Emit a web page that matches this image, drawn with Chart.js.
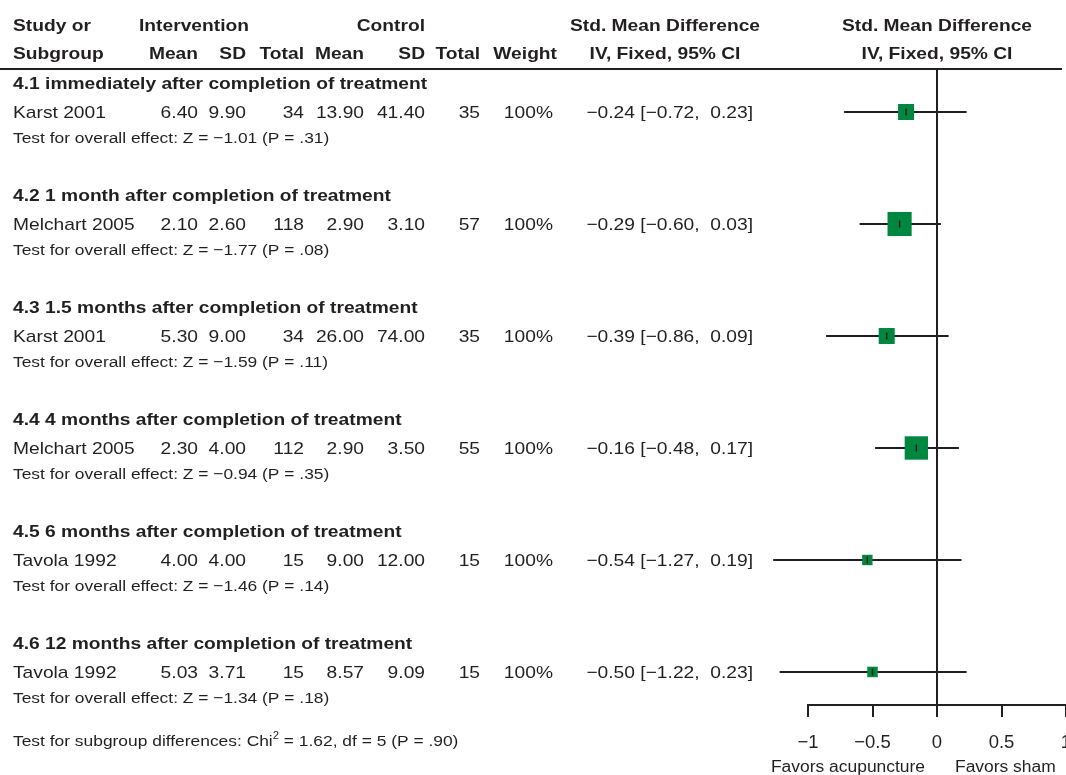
<!DOCTYPE html>
<html>
<head>
<meta charset="utf-8">
<title>Std. Mean Difference, IV, Fixed, 95% CI</title>
<script src="https://cdn.jsdelivr.net/npm/chart.js@4.4.1/dist/chart.umd.min.js"></script>
<style>
  html, body { margin: 0; padding: 0; background: #fff; overflow: hidden; }
  #wrap { position: relative; width: 1066px; height: 775px; }
</style>
</head>
<body>
<div id="wrap"><canvas id="forest"></canvas></div>
<script>
// one study per subgroup
const subgroups = [
    '4.1 immediately after completion of treatment',
    '4.2 1 month after completion of treatment',
    '4.3 1.5 months after completion of treatment',
    '4.4 4 months after completion of treatment',
    '4.5 6 months after completion of treatment',
    '4.6 12 months after completion of treatment'
];
const studies   = ['Karst 2001', 'Melchart 2005', 'Karst 2001', 'Melchart 2005', 'Tavola 1992', 'Tavola 1992'];
const intMean   = [6.40, 2.10, 5.30, 2.30, 4.00, 5.03];
const intSD     = [9.90, 2.60, 9.00, 4.00, 4.00, 3.71];
const intTotal  = [34, 118, 34, 112, 15, 15];
const ctlMean   = [13.90, 2.90, 26.00, 2.90, 9.00, 8.57];
const ctlSD     = [41.40, 3.10, 74.00, 3.50, 12.00, 9.09];
const ctlTotal  = [35, 57, 35, 55, 15, 15];
const weights   = [100, 100, 100, 100, 100, 100];
const smd       = [-0.24, -0.29, -0.39, -0.16, -0.54, -0.50];
const ciLow     = [-0.72, -0.60, -0.86, -0.48, -1.27, -1.22];
const ciHigh    = [0.23, 0.03, 0.09, 0.17, 0.19, 0.23];
const zStat     = [-1.01, -1.77, -1.59, -0.94, -1.46, -1.34];
const pValue    = ['.31', '.08', '.11', '.35', '.14', '.18'];
const xTicks    = [-1, -0.5, 0, 0.5, 1];
const heterogeneity = { chi2: 1.62, df: 5, p: '.90' };

const FAMILY = '"Liberation Sans", Arial, Helvetica, sans-serif';
const INK = '#231f20';
const GREEN = '#00873f';
const SX = 1.13;          // table text is set a little wide

// column anchors (right edges unless noted)
const COL = { name: 13, intMean: 198, intSD: 246, intTotal: 304, ctlMean: 364,
              ctlSD: 425, ctlTotal: 480, weight: 553, ci: 753, ciMid: 665 };

function signed(v, d) {
    const s = d === undefined ? String(Math.abs(v)) : Math.abs(v).toFixed(d);
    return (v < 0 ? '\u2212' : '') + s;
}
function ciText(i) {
    const pad = v => (v >= 0 ? ' ' : '') + signed(v, 2);
    return signed(smd[i], 2) + ' [' + signed(ciLow[i], 2) + ', ' + pad(ciHigh[i]) + ']';
}
// square side shrinks with CI width
function boxSide(i) { return 15.2 / (ciHigh[i] - ciLow[i]); }

function put(ctx, s, x, y, align, font, sx) {
    ctx.save();
    ctx.font = font;
    ctx.fillStyle = INK;
    ctx.textAlign = align;
    ctx.textBaseline = 'alphabetic';
    ctx.translate(x, y);
    ctx.scale(sx === undefined ? SX : sx, 1);
    ctx.fillText(s, 0, 0);
    ctx.restore();
}

const REG = '17px ' + FAMILY;
const BOLD = 'bold 17px ' + FAMILY;
const SMALL = '15.4px ' + FAMILY;

const forestTable = {
    id: 'forestTable',
    beforeDatasetsDraw(chart) {
        const { ctx, chartArea: a, scales: { x } } = chart;
        const x0 = Math.round(x.getPixelForValue(0));
        ctx.save();
        ctx.strokeStyle = INK;
        ctx.lineWidth = 2;
        ctx.beginPath();
        ctx.moveTo(x0, a.top);
        ctx.lineTo(x0, a.bottom);
        ctx.moveTo(0, a.top + 1);
        ctx.lineTo(1062, a.top + 1);
        ctx.stroke();
        ctx.restore();
    },
    afterDraw(chart) {
        const { ctx, scales: { x, y } } = chart;
        const zeroX = x.getPixelForValue(0);

        // column headings
        put(ctx, 'Study or', COL.name, 31, 'left', BOLD);
        put(ctx, 'Intervention', 139, 31, 'left', BOLD);
        put(ctx, 'Control', COL.ctlSD, 31, 'right', BOLD);
        put(ctx, 'Std. Mean Difference', COL.ciMid, 31, 'center', BOLD);
        put(ctx, 'Std. Mean Difference', zeroX, 31, 'center', BOLD);
        put(ctx, 'Subgroup', COL.name, 59, 'left', BOLD);
        put(ctx, 'Mean', COL.intMean, 59, 'right', BOLD);
        put(ctx, 'SD', COL.intSD, 59, 'right', BOLD);
        put(ctx, 'Total', COL.intTotal, 59, 'right', BOLD);
        put(ctx, 'Mean', COL.ctlMean, 59, 'right', BOLD);
        put(ctx, 'SD', COL.ctlSD, 59, 'right', BOLD);
        put(ctx, 'Total', COL.ctlTotal, 59, 'right', BOLD);
        put(ctx, 'Weight', 557, 59, 'right', BOLD);
        put(ctx, 'IV, Fixed, 95% CI', COL.ciMid, 59, 'center', BOLD);
        put(ctx, 'IV, Fixed, 95% CI', zeroX, 59, 'center', BOLD);

        // one block per subgroup
        studies.forEach((name, i) => {
            const row = y.getPixelForValue(i);
            const b = row + 6;
            put(ctx, subgroups[i], COL.name, row - 23, 'left', BOLD);
            put(ctx, name, COL.name, b, 'left', REG);
            put(ctx, intMean[i].toFixed(2), COL.intMean, b, 'right', REG);
            put(ctx, intSD[i].toFixed(2), COL.intSD, b, 'right', REG);
            put(ctx, String(intTotal[i]), COL.intTotal, b, 'right', REG);
            put(ctx, ctlMean[i].toFixed(2), COL.ctlMean, b, 'right', REG);
            put(ctx, ctlSD[i].toFixed(2), COL.ctlSD, b, 'right', REG);
            put(ctx, String(ctlTotal[i]), COL.ctlTotal, b, 'right', REG);
            put(ctx, weights[i] + '%', COL.weight, b, 'right', REG);
            put(ctx, ciText(i), COL.ci, b, 'right', REG);
            put(ctx, 'Test for overall effect: Z = ' + signed(zStat[i], 2) + ' (P = ' + pValue[i] + ')',
                COL.name, row + 31, 'left', SMALL);
        });

        // heterogeneity line with superscript
        const base = 746;
        const head = 'Test for subgroup differences: Chi';
        ctx.save();
        ctx.font = SMALL;
        const w1 = ctx.measureText(head).width * SX;
        ctx.font = '10px ' + FAMILY;
        const w2 = ctx.measureText('2').width * SX;
        ctx.restore();
        put(ctx, head, COL.name, base, 'left', SMALL);
        put(ctx, '2', COL.name + w1, base - 7, 'left', '10px ' + FAMILY);
        put(ctx, ' = ' + heterogeneity.chi2.toFixed(2) + ', df = ' + heterogeneity.df + ' (P = ' + heterogeneity.p + ')',
            COL.name + w1 + w2, base, 'left', SMALL);

        // direction labels under the axis
        put(ctx, 'Favors acupuncture', x.getPixelForValue(-0.69), 772, 'center', '16px ' + FAMILY, 1.09);
        put(ctx, 'Favors sham', x.getPixelForValue(0.53), 772, 'center', '16px ' + FAMILY, 1.09);
    }
};

const rows = studies.map((s, i) => i);

// confidence intervals may run past the -1 end of the axis
const datasets = [];
rows.forEach(i => {
    datasets.push({
        type: 'line',
        data: [{ x: ciLow[i], y: i }, { x: ciHigh[i], y: i }],
        borderColor: INK,
        borderWidth: 2,
        borderCapStyle: 'butt',
        pointRadius: 0,
        clip: false,
        order: 3
    });
});
datasets.push({
    type: 'scatter',
    data: rows.map(i => ({ x: smd[i], y: i })),
    pointStyle: 'rect',
    pointRadius: c => boxSide(c.dataIndex) / Math.SQRT2,
    backgroundColor: GREEN,
    borderWidth: 0,
    clip: false,
    order: 2
});
datasets.push({
    type: 'scatter',
    data: rows.map(i => ({ x: smd[i], y: i })),
    pointStyle: 'line',
    rotation: 90,
    pointRadius: 3.5,
    borderColor: INK,
    borderWidth: 1.6,
    clip: false,
    order: 1
});

new Chart(document.getElementById('forest'), {
    data: { datasets },
    plugins: [forestTable],
    options: {
        responsive: true,
        maintainAspectRatio: false,
        animation: false,
        events: [],
        layout: { autoPadding: false, padding: { left: 808, top: 68, right: 0, bottom: 0 } },
        plugins: { legend: { display: false }, tooltip: { enabled: false } },
        scales: {
            x: {
                type: 'linear',
                min: -1,
                max: 1,
                afterBuildTicks: s => { s.ticks = xTicks.map(v => ({ value: v })); },
                afterFit: s => { s.height = 70; s.paddingLeft = 0; s.paddingRight = 0; },
                border: { display: true, color: INK, width: 2 },
                grid: { display: true, drawOnChartArea: false, drawTicks: true, tickLength: 12, color: INK, lineWidth: 2 },
                ticks: {
                    color: INK,
                    autoSkip: false,
                    maxRotation: 0,
                    padding: 15,
                    font: { family: FAMILY, size: 18.5 },
                    callback: v => signed(v)
                }
            },
            y: { type: 'linear', min: -0.393, max: 5.295, reverse: true, display: false }
        }
    }
});
</script>
</body>
</html>
